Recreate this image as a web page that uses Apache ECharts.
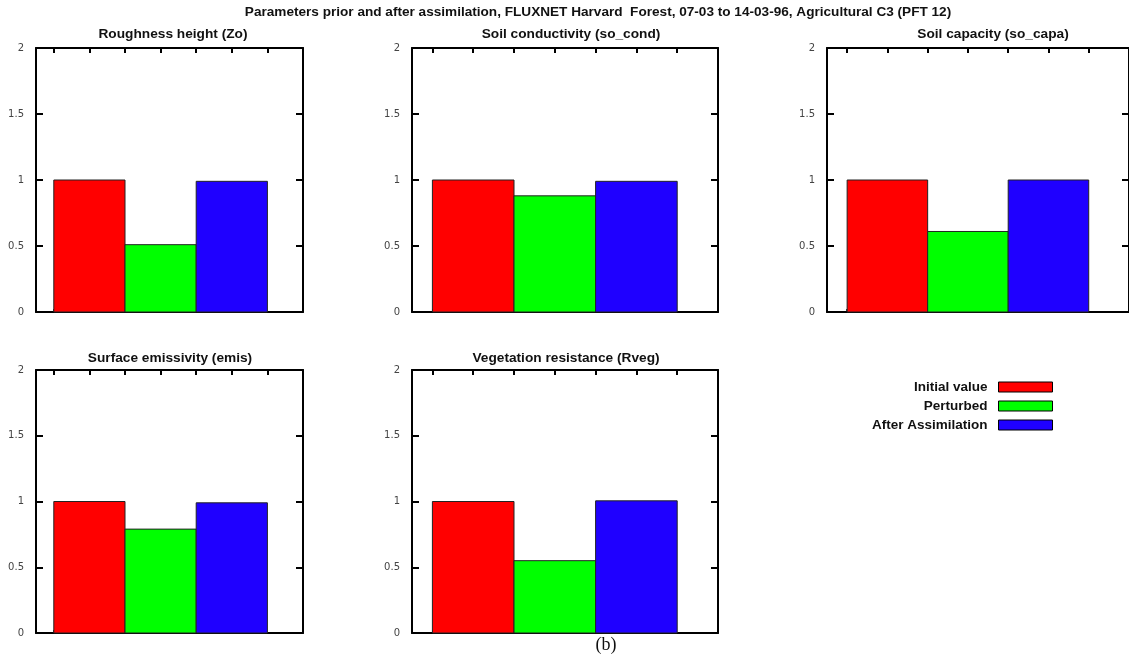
<!DOCTYPE html>
<html>
<head>
<meta charset="utf-8">
<script src="https://cdn.jsdelivr.net/npm/echarts@6/dist/echarts.min.js"></script>
<style>html,body{margin:0;padding:0;background:#fff;}#c{width:1129px;height:660px;}</style>
</head>
<body>
<div id="c"></div>
<script>
// ---- data ----
const seriesNames = ['Initial value', 'Perturbed', 'After Assimilation'];
const panelTitles = ['Roughness height (Zo)', 'Soil conductivity (so_cond)', 'Soil capacity (so_capa)', 'Surface emissivity (emis)', 'Vegetation resistance (Rveg)'];
const initialValues = [1.0, 1.0, 1.0, 1.0, 1.0];
const perturbedValues = [0.51, 0.88, 0.61, 0.79, 0.55];
const assimilatedValues = [0.99, 0.99, 1.0, 0.99, 1.005];
const yTickValues = [0, 0.5, 1, 1.5, 2];
const xTickValues = [0, 0.5, 1, 1.5, 2, 2.5, 3];
const mainTitle = 'Parameters prior and after assimilation, FLUXNET Harvard  Forest, 07-03 to 14-03-96, Agricultural C3 (PFT 12)';
const footLabel = '(b)';

// ---- layout / style ----
const colors = ['#ff0000', '#00ff00', '#1f00ff'];
const grids = [
  {left: 36, top: 48, width: 267, height: 264},
  {left: 412, top: 48, width: 306, height: 264},
  {left: 827, top: 48, width: 304, height: 264},
  {left: 36, top: 370, width: 267, height: 263},
  {left: 412, top: 370, width: 306, height: 263}
];
const titleCenters = [[173, 34], [571, 34], [993, 34], [170, 358], [566, 358]];
const SANS = '"Liberation Sans", Arial, sans-serif';
const lineC = '#000';

const allValues = [initialValues, perturbedValues, assimilatedValues];
const xAxes = [], yAxes = [], series = [], graphics = [];

grids.forEach((g, i) => {
  const xBase = {gridIndex: i, type: 'value', min: -0.25, max: 3.5,
    axisLabel: {show: false}, splitLine: {show: false},
    axisLine: {show: true, onZero: false, lineStyle: {color: lineC, width: 2}}};
  xAxes.push(Object.assign({}, xBase, {position: 'top',
    axisTick: {show: true, inside: true, length: 5, customValues: xTickValues, lineStyle: {color: lineC, width: 2}}}));
  xAxes.push(Object.assign({}, xBase, {position: 'bottom',
    axisTick: {show: true, inside: true, length: 3, customValues: [0], lineStyle: {color: lineC, width: 1.5}}}));
  const yBase = {gridIndex: i, type: 'value', min: 0, max: 2, interval: 0.5,
    splitLine: {show: false},
    axisLine: {show: true, onZero: false, lineStyle: {color: lineC, width: 2}},
    axisTick: {show: true, inside: true, length: 7, lineStyle: {color: lineC, width: 2}}};
  yAxes.push(Object.assign({}, yBase, {position: 'left',
    axisLabel: {show: true, margin: 12, color: '#444', fontSize: 10, fontFamily: '"DejaVu Sans", sans-serif',
      customValues: yTickValues, formatter: v => String(v)}}));
  yAxes.push(Object.assign({}, yBase, {position: 'right', axisLabel: {show: false}}));

  seriesNames.forEach((name, k) => {
    series.push({
      type: 'custom', name: name,
      xAxisIndex: i * 2, yAxisIndex: i * 2,
      itemStyle: {color: colors[k], borderColor: '#222', borderWidth: 1},
      data: [[k, allValues[k][i]]],
      renderItem: function (params, api) {
        const x = api.value(0), y = api.value(1);
        const p0 = api.coord([x, 0]);
        const p1 = api.coord([x + 1, y]);
        return {type: 'rect',
          shape: {x: p0[0], y: p1[1], width: p1[0] - p0[0], height: p0[1] - p1[1]},
          style: {fill: colors[k], stroke: '#222', lineWidth: 1}};
      },
      z: 1
    });
  });

  graphics.push({type: 'text', x: titleCenters[i][0], y: titleCenters[i][1],
    style: {text: panelTitles[i], align: 'center', verticalAlign: 'middle',
      font: 'bold 13.7px ' + SANS, fill: '#111'}});
});

graphics.push({type: 'text', x: 598, y: 12,
  style: {text: mainTitle, align: 'center', verticalAlign: 'middle', font: 'bold 13.6px ' + SANS, fill: '#111'}});
graphics.push({type: 'text', x: 606, y: 645,
  style: {text: footLabel, align: 'center', verticalAlign: 'middle', font: '18px "Liberation Serif", "Times New Roman", serif', fill: '#111'}});

const chart = echarts.init(document.getElementById('c'), null, {renderer: 'canvas'});
chart.setOption({
  animation: false,
  backgroundColor: '#fff',
  grid: grids.map(g => Object.assign({containLabel: false}, g)),
  xAxis: xAxes,
  yAxis: yAxes,
  legend: {
    data: seriesNames, orient: 'vertical', align: 'right', right: 71, top: 375,
    icon: 'rect', itemWidth: 54, itemHeight: 10, itemGap: 5, selectedMode: false,
    itemStyle: {borderColor: '#000', borderWidth: 1},
    textStyle: {fontSize: 13.5, fontWeight: 'bold', fontFamily: SANS, color: '#111', padding: [0, 6, 0, 0]}
  },
  series: series,
  graphic: graphics
});
</script>
</body>
</html>
